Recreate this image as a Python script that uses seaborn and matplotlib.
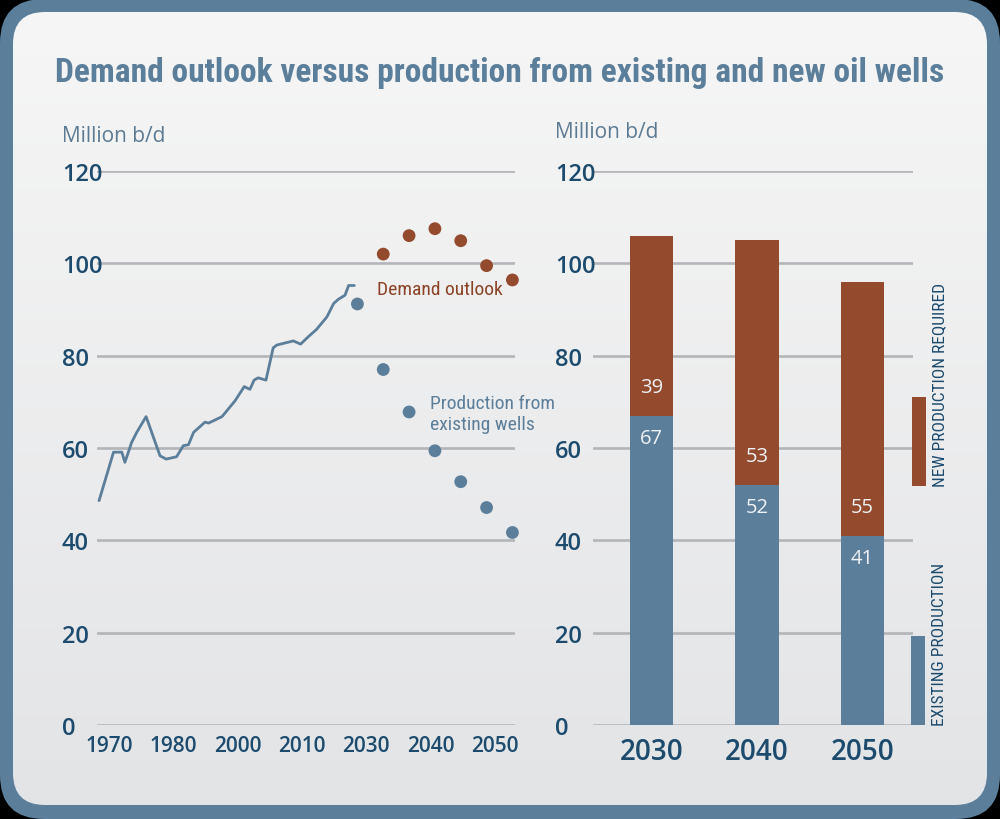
import numpy as np
import pandas as pd
import seaborn as sns
import matplotlib
matplotlib.use("Agg")
import matplotlib.pyplot as plt
from matplotlib import font_manager
from matplotlib.patches import FancyBboxPatch, Rectangle
from matplotlib.colors import LinearSegmentedColormap
import matplotlib.transforms as mtransforms

# ---------------- data ----------------
hist_years = [1970, 1972.8, 1974.4, 1975, 1976.3, 1977.3, 1979.1, 1981.8, 1983, 1983.8,
              1985, 1986.3, 1987.3, 1988.3, 1990.5, 1991.2, 1993.8, 1996.3, 1998.1, 1999.2,
              2000, 2000.8, 2002.3, 2003.7, 2004.4, 2007.6, 2009, 2010.5, 2012.1, 2014.1,
              2015.4, 2016.3, 2017.6, 2018.3, 2019.4]
hist_demand = [48.6, 59.1, 59.1, 56.9, 61.2, 63.4, 66.8, 58.3, 57.6, 57.8,
               58.1, 60.5, 60.7, 63.4, 65.6, 65.4, 66.8, 70.2, 73.3, 72.7,
               74.7, 75.2, 74.7, 81.7, 82.3, 83.2, 82.5, 84.1, 85.7, 88.4,
               91.3, 92.2, 93.1, 95.2, 95.2]

prod_years = [2020, 2025, 2030, 2035, 2040, 2045, 2050]
prod_existing = [91.2, 77.0, 67.8, 59.4, 52.7, 47.1, 41.7]

demand_years = [2025, 2030, 2035, 2040, 2045, 2050]
demand_outlook = [102.0, 106.0, 107.5, 104.9, 99.5, 96.4]

left_tick_labels = ["1970", "1980", "2000", "2010", "2030", "2040", "2050"]
y_ticks = [0, 20, 40, 60, 80, 100, 120]

bar_cats = ["2030", "2040", "2050"]
existing_prod = [67, 52, 41]
new_required = [39, 53, 55]

title = "Demand outlook versus production from existing and new oil wells"
unit_label = "Million b/d"

# ---------------- styling ----------------
def pick(*names):
    for n in names:
        try:
            font_manager.findfont(font_manager.FontProperties(family=n), fallback_to_default=False)
            return n
        except Exception:
            pass
    return "DejaVu Sans"

sns.set_theme(style="white")
BODY = pick("Open Sans", "Noto Sans", "Lato")
NARROW = pick("Liberation Sans Narrow", "DejaVu Sans Condensed", "Roboto Condensed")
plt.rcParams["font.family"] = [BODY, "DejaVu Sans"]

BLUE = "#5b7e9a"
RUST = "#934a2d"
TICK = "#1c4b6e"
GRID = "#b3b5b8"
UNIT = "#5b7a94"
DEMAND_TXT = "#8c4225"

W, H = 1000, 820
fig = plt.figure(figsize=(W / 100, H / 100), dpi=100, facecolor="black")

# background frame
bg = fig.add_axes([0, 0, 1, 1], zorder=-10)
outer = FancyBboxPatch((0, 0), W, H, boxstyle="round,pad=0,rounding_size=44",
                       facecolor=BLUE, edgecolor="none", zorder=0)
bg.add_patch(outer)
inner = FancyBboxPatch((13, 14), W - 26, H - 27, boxstyle="round,pad=0,rounding_size=32",
                       facecolor="none", edgecolor="none", zorder=0)
bg.add_patch(inner)
grad = np.linspace(0, 1, 256).reshape(-1, 1)
cmap = LinearSegmentedColormap.from_list("bgc", ["#e3e4e6", "#f6f6f6"])
im = bg.imshow(grad, extent=(13, W - 13, 14, H - 13), origin="lower", cmap=cmap,
               aspect="auto", zorder=2)
im.set_clip_path(inner)
bg.set_xlim(0, W)
bg.set_ylim(0, H)
bg.axis("off")

# axes placement (pixels from top-left)
def frac_rect(x0, x1, ytop, ybot):
    return [x0 / W, 1 - ybot / H, (x1 - x0) / W, (ybot - ytop) / H]

axL = fig.add_axes(frac_rect(97, 515, 172, 726))
axR = fig.add_axes(frac_rect(593, 913, 172, 726))

for ax in (axL, axR):
    ax.set_facecolor("none")
    for s in ax.spines.values():
        s.set_visible(False)
    ax.set_ylim(0, 120)
    ax.set_yticks(y_ticks)
    ax.yaxis.grid(True, color=GRID, linewidth=1.9)
    ax.xaxis.grid(False)
    ax.set_axisbelow(True)
    ax.tick_params(length=0)

TW = "semibold"

# ---- left chart ----
sns.lineplot(x=hist_years, y=hist_demand, ax=axL, color=BLUE, linewidth=2.0,
             estimator=None, sort=False, zorder=3)
sns.scatterplot(x=prod_years, y=prod_existing, ax=axL, color=BLUE, s=85,
                edgecolor="none", zorder=4, clip_on=False)
sns.scatterplot(x=demand_years, y=demand_outlook, ax=axL, color=RUST, s=85,
                edgecolor="none", zorder=4, clip_on=False)
axL.set_xlim(1969.6, 2050.5)
axL.set_ylim(0, 120)
axL.set_xticks(np.linspace(1972.0, 2046.6, len(left_tick_labels)))
axL.set_xticklabels(left_tick_labels, fontsize=15, color=TICK, fontweight=TW)
axL.tick_params(axis="x", pad=7)
axL.set_yticks(y_ticks)
axL.set_yticklabels([str(v) for v in y_ticks], fontsize=17, color=TICK, ha="left",
                    fontweight=TW)
axL.tick_params(axis="y", pad=25.2)
axL.set_xlabel("")
axL.set_ylabel("")

axL.text(2023.7, 94.4, "Demand outlook", color=DEMAND_TXT, fontsize=14,
         family=[NARROW, "DejaVu Sans"], ha="left", va="center")
axL.text(2034.1, 67.4, "Production from\nexisting wells", color=BLUE, fontsize=14,
         family=[NARROW, "DejaVu Sans"], ha="left", va="center", linespacing=1.2)

# ---- right chart ----
totals = [e + n for e, n in zip(existing_prod, new_required)]
df = pd.DataFrame({"year": bar_cats, "existing": existing_prod, "new": new_required,
                   "total": totals})
sns.barplot(data=df, x="year", y="total", ax=axR, color=RUST, saturation=1,
            width=0.41, edgecolor="none", zorder=3)
sns.barplot(data=df, x="year", y="existing", ax=axR, color=BLUE, saturation=1,
            width=0.41, edgecolor="none", zorder=4)
axR.set_xlim(-0.555, 2.48)
axR.set_ylim(0, 120)
axR.set_xlabel("")
axR.set_ylabel("")
axR.set_xticks(range(len(bar_cats)))
axR.set_xticklabels(bar_cats, fontsize=20, color=TICK, fontweight=TW)
axR.tick_params(axis="x", pad=9)
axR.set_yticks(y_ticks)
axR.set_yticklabels([str(v) for v in y_ticks], fontsize=17, color=TICK, ha="left",
                    fontweight=TW)
axR.tick_params(axis="y", pad=27.4)

LBL = "#eef2f5"
for i, (e, n) in enumerate(zip(existing_prod, new_required)):
    axR.annotate(str(n), (i, e), xytext=(0, 21), textcoords="offset points",
                 ha="center", va="center", color=LBL, fontsize=14.5, zorder=6)
    axR.annotate(str(e), (i, e), xytext=(0, -16), textcoords="offset points",
                 ha="center", va="center", color=LBL, fontsize=14.5, zorder=6)

# legend swatches (right side of bar chart)
tr = mtransforms.blended_transform_factory(fig.transFigure, axR.transData)
axR.add_patch(Rectangle((912 / W, 51.8), 14 / W, 19.2, transform=tr, facecolor=RUST,
                        edgecolor="none", clip_on=False))
axR.add_patch(Rectangle((911 / W, 0), 14 / W, 19.3, transform=tr, facecolor=BLUE,
                        edgecolor="none", clip_on=False))
fig.text(940 / W, 1 - 487 / H, "NEW PRODUCTION REQUIRED", rotation=90,
         rotation_mode="anchor", ha="left", va="center", color=TICK, fontsize=12.5,
         family=[NARROW, "DejaVu Sans"])
fig.text(940 / W, 1 - 726 / H, "EXISTING PRODUCTION", rotation=90,
         rotation_mode="anchor", ha="left", va="center", color=TICK, fontsize=12.5,
         family=[NARROW, "DejaVu Sans"])

# unit labels
fig.text(62 / W, 1 - 137 / H, unit_label, color=UNIT, fontsize=15, ha="left", va="center")
fig.text(555 / W, 1 - 133 / H, unit_label, color=UNIT, fontsize=15, ha="left", va="center")

# title, fitted to width
t = fig.text(0.5, 1 - 73 / H, title, color=BLUE, fontsize=30, fontweight="bold",
             family=[NARROW, "DejaVu Sans"], ha="center", va="center")
fig.canvas.draw()
wpx = t.get_window_extent().width
t.set_fontsize(30 * 890 / wpx)

fig.savefig("out.png", dpi=100, facecolor="black")
